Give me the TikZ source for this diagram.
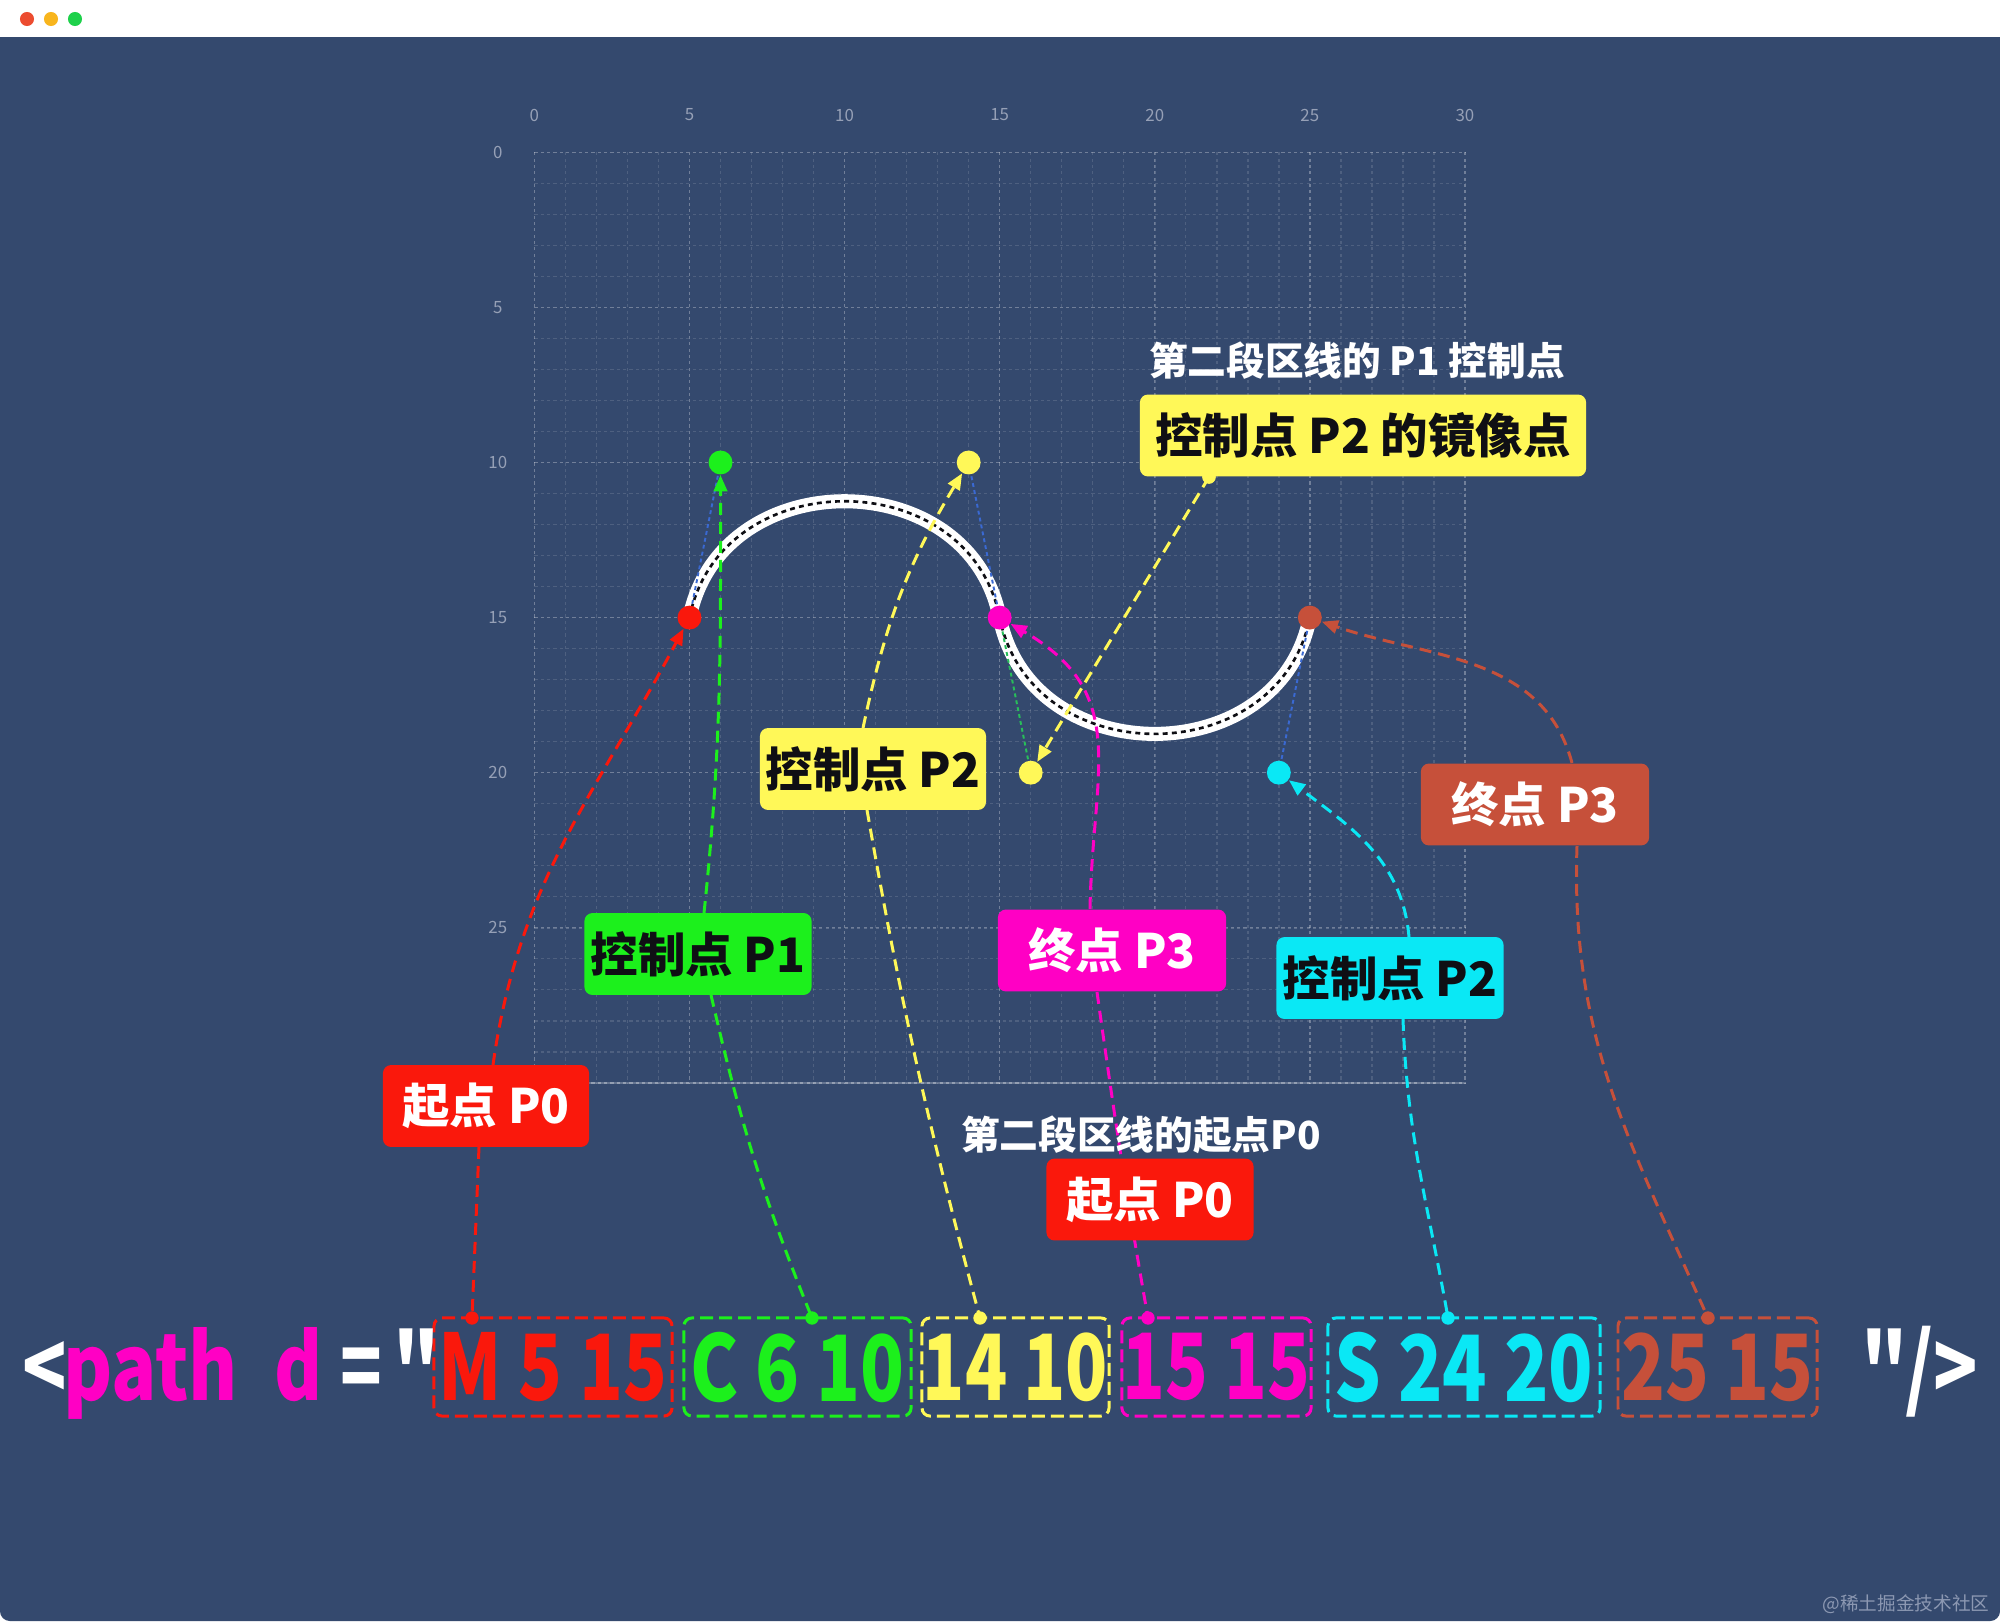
\documentclass[tikz,border=0pt]{standalone}
\usepackage{fontspec}
\usetikzlibrary{arrows.meta,calc}
\newfontfamily\cjk{Noto Sans CJK SC}
\definecolor{bgblue}{RGB}{52,73,110}
\definecolor{cRed}{RGB}{250,24,12}
\definecolor{cGreen}{RGB}{28,240,28}
\definecolor{cYellow}{RGB}{255,248,88}
\definecolor{cMag}{RGB}{255,0,196}
\definecolor{cCyan}{RGB}{10,232,245}
\definecolor{cBrown}{RGB}{198,80,58}
\definecolor{hBlue}{RGB}{58,105,210}
\definecolor{hGreen}{RGB}{40,190,90}
\definecolor{axgray}{RGB}{150,160,182}
\definecolor{dark}{RGB}{15,15,20}
\definecolor{wmark}{RGB}{140,152,178}
\definecolor{tRed}{RGB}{236,76,48}
\definecolor{tYel}{RGB}{248,181,29}
\definecolor{tGrn}{RGB}{30,209,75}
\tikzset{
  gridminor/.style={white, opacity=0.13, line width=0.4pt, dash pattern=on 0.9pt off 0.9pt},
  gridmajor/.style={white, opacity=0.2, line width=0.45pt, dash pattern=on 0.9pt off 0.9pt},
  axislbl/.style={text=axgray, font=\cjk\fontsize{4.8}{5}\selectfont, inner sep=0pt},
  dot/.style={circle, fill=#1, minimum size=6.8pt, inner sep=0pt},
  sdot/.style={circle, fill=#1, minimum size=3.8pt, inner sep=0pt},
  handle/.style={draw=#1, line width=0.55pt, dash pattern=on 1.1pt off 0.9pt},
  conn/.style={draw=#1, line width=0.85pt, dash pattern=on 3.4pt off 2pt},
  arr/.style={-{Triangle[length=4.6pt,width=3.8pt]}},
  lbl/.style={fill=#1, rounded corners=2.3pt, minimum height=23.3pt, inner sep=0pt, text=dark,
    font=\cjk\bfseries\fontsize{13.5}{16}\selectfont},
  lblw/.style={lbl=#1, text=white},
  wtext/.style={text=white, inner sep=0pt, font=\cjk\bfseries\fontsize{11}{13}\selectfont},
  cbox/.style={draw=#1, text=#1, line width=0.85pt, dash pattern=on 3.7pt off 1.7pt,
    rounded corners=2.3pt, minimum height=27.9pt, inner sep=0pt,
    font=\cjk\bfseries\fontsize{26}{30}\selectfont},
  ctext/.style={text=#1, anchor=base, inner sep=0pt, font=\cjk\bfseries\fontsize{26}{30}\selectfont}
}
\begin{document}
\begin{tikzpicture}[x=0.01cm,y=-0.01cm]
\useasboundingbox (0,0) rectangle (2000,1621);
\fill[white] (0,0) rectangle (2000,1621);
\fill[bgblue, rounded corners=2.8pt] (0,37) rectangle (2000,1621);
\fill[bgblue] (0,37) rectangle (2000,80);
% window buttons
\fill[tRed] (27,19) circle (2pt);
\fill[tYel] (51,19) circle (2pt);
\fill[tGrn] (75,19) circle (2pt);

\begin{scope}[shift={(534.4,152.3)},x=0.31cm,y=-0.31cm]
  \foreach \i in {0,...,30} {
    \draw[gridminor] (\i,0) -- (\i,30);
    \draw[gridminor] (0,\i) -- (30,\i);
  }
  \foreach \i in {0,5,...,30} {
    \draw[gridmajor] (\i,0) -- (\i,30);
    \draw[gridmajor] (0,\i) -- (30,\i);
    \node[axislbl] at (\i,-1.2) {\i};
  }
  \foreach \i in {0,5,...,25} {
    \node[axislbl] at (-1.18,\i) {\i};
  }
  \draw[white, opacity=0.25, line width=0.5pt] (0,30) -- (30,30);
  % curve
  \draw[white, line width=4pt] (5,15) .. controls (6,10) and (14,10) .. (15,15)
        .. controls (16,20) and (24,20) .. (25,15);
  \draw[dark, line width=0.75pt, dash pattern=on 1.4pt off 1.2pt] (5,15) .. controls (6,10) and (14,10) .. (15,15)
        .. controls (16,20) and (24,20) .. (25,15);
  % handles
  \draw[handle=hBlue] (5,15) -- (6,10);
  \draw[handle=hBlue] (14,10) -- (15,15);
  \draw[handle=hGreen] (15,15) -- (16,20);
  \draw[handle=hBlue] (24,20) -- (25,15);
  % points
  \node[dot=cRed] (d0) at (5,15) {};
  \node[dot=cGreen] (d1) at (6,10) {};
  \node[dot=cYellow] (d2) at (14,10) {};
  \node[dot=cMag] (d3) at (15,15) {};
  \node[dot=cYellow] (d4) at (16,20) {};
  \node[dot=cCyan] (d5) at (24,20) {};
  \node[dot=cBrown] (d6) at (25,15) {};
\end{scope}

% code row boxes
\node[cbox=cRed, minimum width=67.7pt] (b0) at (553,1367) {\scalebox{0.79}[1]{M 5 15}};
\node[cbox=cGreen, minimum width=64.6pt] (b1) at (797.5,1367) {\scalebox{0.79}[1]{C 6 10}};
\node[cbox=cYellow, minimum width=53.2pt] (b2) at (1015.5,1367) {\scalebox{0.76}[1]{14 10}};
\node[cbox=cMag, minimum width=53.8pt] (b3) at (1216.5,1367) {\scalebox{0.77}[1]{15 15}};
\node[cbox=cCyan, minimum width=77.4pt] (b4) at (1464,1367) {\scalebox{0.8}[1]{S 24 20}};
\node[cbox=cBrown, minimum width=56.6pt] (b5) at (1717.5,1367) {\scalebox{0.79}[1]{25 15}};
\node[ctext=white] (t0) at (44.5,1400) {\scalebox{0.8}[1]{<}};
\node[ctext=cMag] (t1) at (150.5,1400) {\scalebox{0.82}[1]{path}};
\node[ctext=cMag] (t2) at (298.5,1400) {\scalebox{0.8}[1]{d}};
\node[ctext=white] (t3) at (361.5,1400) {\scalebox{0.75}[1]{=}};
\node[ctext=white] (t4) at (416.5,1400) {\scalebox{0.8}[1]{"}};
\node[ctext=white] (t5) at (1885,1400) {\scalebox{0.8}[1]{"}};
\node[ctext=white] (t6) at (1920,1400) {\scalebox{0.8}[1]{/}};
\node[ctext=white] (t7) at (1956,1400) {\scalebox{0.8}[1]{>}};
% code dots
\node[sdot=cRed] (c0) at (472,1318) {};
\node[sdot=cGreen] (c1) at (812,1318) {};
\node[sdot=cYellow] (c2) at (980,1318) {};
\node[sdot=cMag] (c3) at (1148,1318) {};
\node[sdot=cCyan] (c4) at (1448,1318) {};
\node[sdot=cBrown] (c5) at (1708,1318) {};

% label positions
\coordinate (Lp0) at (486,1106);
\coordinate (Lc1) at (698,954);
\coordinate (Lc2) at (873,769);
\coordinate (Lp3) at (1112,950.5);
\coordinate (Lcs) at (1390,978);
\coordinate (Lend) at (1535,804.5);

% connectors
\draw[conn=cRed, arr] (493,1065) to[out=82,in=242] (d0);
\draw[conn=cRed] (479,1147) -- (c0.center);
\draw[conn=cGreen, arr] (704,913) to[out=84,in=270] (d1);
\draw[conn=cGreen] (711,995) to[out=-77,in=112] (c1.center);
\draw[conn=cYellow, arr] (863,728) to[out=78,in=239] (d2);
\draw[conn=cYellow] (867,810) to[out=-80,in=105] (c2.center);
\node[sdot=cYellow] (m0) at (1209,477) {};
\draw[conn=cYellow, arr] (m0.center) -- (d4);
\draw[conn=cMag, arr] (1090,909) to[out=89,in=-30,looseness=1.2] (d3);
\draw[conn=cMag] (1097,992) to[out=-82,in=100] (c3.center);
\draw[conn=cCyan, arr] (1409,937) to[out=95,in=-37] (d5);
\draw[conn=cCyan] (1403,1019) to[out=-88,in=100] (c4.center);
\draw[conn=cBrown, arr] (1572,763) to[out=105,in=-19] (d6);
\draw[conn=cBrown] (1577,846) to[out=-92,in=114] (c5.center);

% labels
\node[lbl=cYellow, minimum width=126.9pt] (Lmirror) at (1363,435.5) {控制点 P2 的镜像点};
\node[lbl=cYellow, minimum width=64.3pt] (Nc2) at (Lc2) {控制点 P2};
\node[lbl=cGreen, minimum width=64.6pt] (Nc1) at (Lc1) {控制点 P1};
\node[lblw=cRed, minimum width=58.6pt] (Np0) at (Lp0) {起点 P0};
\node[lblw=cMag, minimum width=64.9pt] (Np3) at (Lp3) {终点 P3};
\node[lblw=cRed, minimum width=58.9pt] (Np0b) at (1150,1199.5) {起点 P0};
\node[lbl=cCyan, minimum width=64.6pt] (Ncs) at (Lcs) {控制点 P2};
\node[lblw=cBrown, minimum width=64.9pt] (Nend) at (Lend) {终点 P3};
\node[sdot=cYellow] at (m0) {};
\node[wtext] (T1) at (1357,361) {第二段区线的 P1 控制点};
\node[wtext] (T2) at (1141,1135) {第二段区线的起点P0};

% watermark
\node[text=wmark, anchor=east, inner sep=0pt, font=\cjk\fontsize{5.3}{6}\selectfont] (wm) at (1990,1604) {@稀土掘金技术社区};
\end{tikzpicture}
\end{document}
